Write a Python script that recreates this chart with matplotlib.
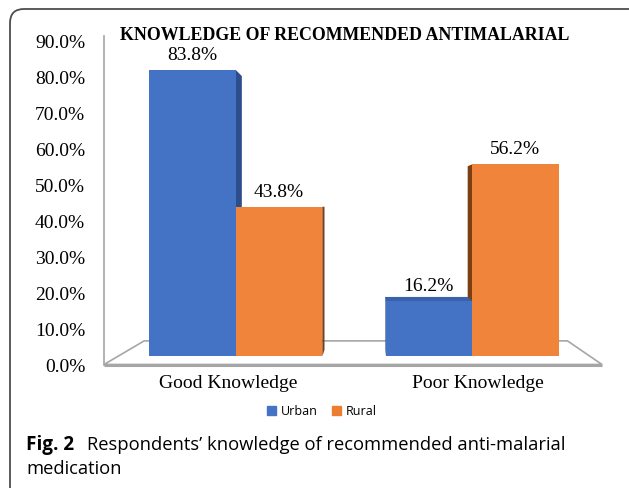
import matplotlib.pyplot as plt
from matplotlib.patches import Polygon, FancyBboxPatch, Patch

categories = ["Good Knowledge", "Poor Knowledge"]
series = ["Urban", "Rural"]
urban = [83.8, 16.2]
rural = [43.8, 56.2]
yticks = [0, 10, 20, 30, 40, 50, 60, 70, 80, 90]

front_cols = {"Urban": "#4472C4", "Rural": "#F0843A"}
side_cols = {"Urban": "#2D4E8C", "Rural": "#7B3F12"}
top_cols = {"Urban": "#3A62AC", "Rural": "#C8682A"}

# simple perspective: everything shrinks toward a vanishing point
vx, vy = 1.076, 43.7
f_front, f_back = 0.949, 0.907
f_floor = 0.85
bar_w = 0.366


def proj(x, y, f):
    return (vx + (x - vx) * f, vy + (y - vy) * f)


fig = plt.figure(figsize=(6.29, 4.89), dpi=100)

# page overlay for the rounded frame
bg = fig.add_axes([0, 0, 1, 1], zorder=0)
bg.set_xlim(0, 629)
bg.set_ylim(489, 0)
bg.axis("off")
bg.add_patch(FancyBboxPatch((10, 10), 640, 500, boxstyle="round,pad=0,rounding_size=14",
                            fc="white", ec="#4d4d4d", lw=1.3))

ax = fig.add_axes([104 / 629, 1 - 365.5 / 489, 498 / 629, 328.5 / 489], zorder=1)
ax.patch.set_visible(False)
ax.set_xlim(0, 2)
ax.set_ylim(0, 91.2)
for s in ["top", "right", "bottom"]:
    ax.spines[s].set_visible(False)
ax.spines["left"].set_color("#a6a6a6")
ax.spines["left"].set_linewidth(1.2)

# floor
floor = [proj(0, 0, 1), proj(2, 0, 1), proj(2, 0, f_floor), proj(0, 0, f_floor)]
ax.add_patch(Polygon(floor, closed=True, fc="white", ec="#a6a6a6", lw=1.2, clip_on=False))
ax.plot([0, 2], [0, 0], color="#a6a6a6", lw=2.2, clip_on=False, solid_capstyle="butt")

# collect bars, then paint the ones far from the vanishing point first
bars = []
for i in range(len(categories)):
    c = i + 0.5
    bars.append((c - bar_w, c, urban[i], "Urban"))
    bars.append((c, c + bar_w, rural[i], "Rural"))
bars.sort(key=lambda b: -abs((b[0] + b[1]) / 2 - vx))

for x0, x1, v, name in bars:
    if x1 < vx:
        side = [proj(x1, 0, f_front), proj(x1, 0, f_back), proj(x1, v, f_back), proj(x1, v, f_front)]
        ax.add_patch(Polygon(side, closed=True, fc=side_cols[name], ec="none", clip_on=False))
    elif x0 > vx:
        side = [proj(x0, 0, f_front), proj(x0, 0, f_back), proj(x0, v, f_back), proj(x0, v, f_front)]
        ax.add_patch(Polygon(side, closed=True, fc=side_cols[name], ec="none", clip_on=False))
    if v < vy:
        top = [proj(x0, v, f_front), proj(x1, v, f_front), proj(x1, v, f_back), proj(x0, v, f_back)]
        ax.add_patch(Polygon(top, closed=True, fc=top_cols[name], ec="none", clip_on=False))
    front = [proj(x0, 0, f_front), proj(x1, 0, f_front), proj(x1, v, f_front), proj(x0, v, f_front)]
    ax.add_patch(Polygon(front, closed=True, fc=front_cols[name], ec="none", clip_on=False))
    lx, ly = proj((x0 + x1) / 2, v, f_front)
    ax.annotate(f"{v:.1f}%", (lx, ly), xytext=(0, 5), textcoords="offset points",
                ha="center", va="bottom", fontsize=14, family="Liberation Serif")

ax.set_yticks(yticks)
ax.set_yticklabels([f"{t:.1f}%" for t in yticks], family="Liberation Serif", fontsize=14)
ax.set_xticks([0.5, 1.5])
ax.set_xticklabels(categories, family="Liberation Serif", fontsize=14)
ax.tick_params(axis="y", length=0, pad=13.5)
ax.tick_params(axis="x", length=0, pad=7)

fig.text(345 / 629, 1 - 36 / 489, "KNOWLEDGE OF RECOMMENDED ANTIMALARIAL", ha="center", va="center",
         family="Liberation Serif", fontweight="bold", fontsize=12.9)

handles = [Patch(color="#4472C4", label="Urban"), Patch(color="#ED7D31", label="Rural")]
fig.legend(handles=handles, loc="center", bbox_to_anchor=(322 / 629, 1 - 412 / 489), ncol=2,
           frameon=False, prop={"family": "Open Sans", "size": 9}, handlelength=0.7,
           handleheight=0.7, handletextpad=0.4, columnspacing=1.2)

fig.text(26 / 629, 1 - 445 / 489, "Fig. 2", ha="left", va="center", family="Open Sans",
         fontweight="bold", fontsize=13.6)
fig.text(87 / 629, 1 - 445 / 489, "Respondents’ knowledge of recommended anti-malarial",
         ha="left", va="center", family="Open Sans", fontsize=13.2)
fig.text(26 / 629, 1 - 469 / 489, "medication", ha="left", va="center", family="Open Sans", fontsize=13.2)

fig.savefig("out.png", dpi=100)
